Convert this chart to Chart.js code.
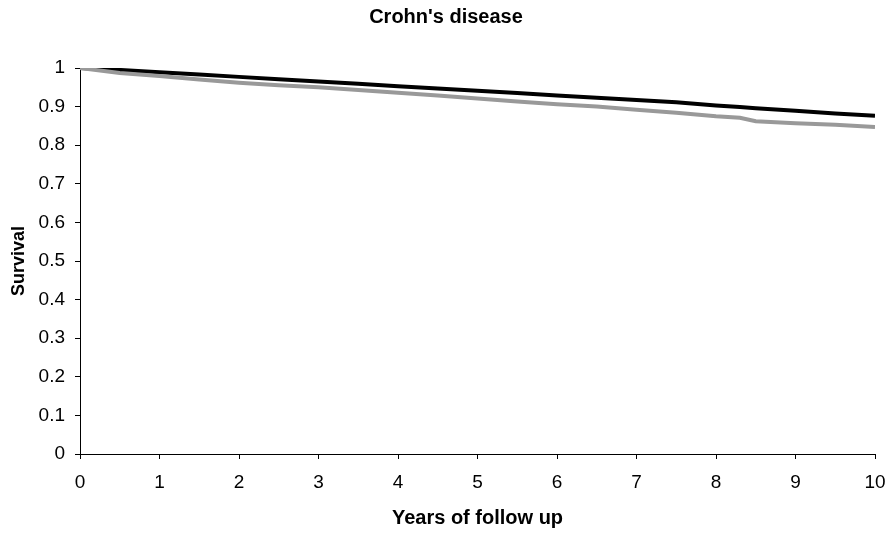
<!DOCTYPE html>
<html>
<head>
<meta charset="utf-8">
<script src="https://cdn.jsdelivr.net/npm/chart.js@4/dist/chart.umd.min.js"></script>
<style>
    html, body { margin: 0; padding: 0; background: #fff; }
    #wrap { width: 892px; height: 533px; }
</style>
</head>
<body>
<div id="wrap"><canvas id="survival-chart"></canvas></div>
<script>
// Годы наблюдения и выживаемость по двум группам
const years = [0, 0.5, 1, 1.5, 2, 2.5, 3, 3.5, 4, 4.5, 5, 5.5, 6, 6.5, 7, 7.5, 8, 8.3, 8.5, 9, 9.5, 10];
const survivalBlack = [1.0, 0.995, 0.989, 0.983, 0.977, 0.971, 0.965, 0.959, 0.953, 0.947, 0.941, 0.935, 0.929, 0.923, 0.917, 0.911, 0.903, 0.899, 0.896, 0.889, 0.882, 0.876];
const survivalGrey = [1.0, 0.987, 0.979, 0.970, 0.962, 0.955, 0.950, 0.943, 0.936, 0.929, 0.921, 0.913, 0.906, 0.900, 0.892, 0.884, 0.875, 0.871, 0.862, 0.857, 0.853, 0.847];
const xTicks = [0, 1, 2, 3, 4, 5, 6, 7, 8, 9, 10];

const FONT = "'Liberation Sans', Arial, sans-serif";

function toPoints(values) {
    return years.map((x, i) => ({ x: x, y: values[i] }));
}

new Chart(document.getElementById('survival-chart'), {
    type: 'line',
    data: {
        datasets: [
            {
                label: 'grey',
                data: toPoints(survivalGrey),
                borderColor: '#999999',
                borderWidth: 4,
                pointRadius: 0,
                tension: 0
            },
            {
                label: 'black',
                data: toPoints(survivalBlack),
                borderColor: '#000000',
                borderWidth: 4,
                pointRadius: 0,
                tension: 0
            }
        ]
    },
    options: {
        responsive: true,
        maintainAspectRatio: false,
        animation: false,
        layout: { padding: 0 },
        plugins: {
            legend: { display: false },
            tooltip: { enabled: false },
            title: {
                display: true,
                text: "Crohn's disease",
                color: '#000',
                font: { family: FONT, size: 20, weight: 'bold' },
                padding: { top: 5, bottom: 39 }
            }
        },
        scales: {
            x: {
                type: 'linear',
                min: 0,
                max: 10,
                afterBuildTicks: (scale) => { scale.ticks = xTicks.map(v => ({ value: v })); },
                afterFit: (scale) => {
                    scale.height = 79;
                    // отступ справа, чтобы ось заканчивалась на 875px
                    scale.paddingRight = 17;
                },
                grid: { drawOnChartArea: false, color: '#000', tickLength: 5, tickColor: '#000' },
                border: { color: '#000', width: 1 },
                ticks: {
                    color: '#000',
                    font: { family: FONT, size: 19 },
                    padding: 12,
                    maxRotation: 0
                },
                title: {
                    display: true,
                    text: 'Years of follow up',
                    color: '#000',
                    font: { family: FONT, size: 20, weight: 'bold' },
                    padding: { top: 3, bottom: 3 }
                }
            },
            y: {
                min: 0,
                max: 1,
                afterFit: (scale) => { scale.width = 80; },
                grid: { drawOnChartArea: false, color: '#000', tickLength: 5, tickColor: '#000' },
                border: { color: '#000', width: 1 },
                ticks: {
                    stepSize: 0.1,
                    color: '#000',
                    font: { family: FONT, size: 19 },
                    padding: 10,
                    callback: (v) => Number(v.toFixed(1)).toString()
                },
                title: {
                    display: true,
                    text: 'Survival',
                    color: '#000',
                    font: { family: FONT, size: 18, weight: 'bold' },
                    padding: { top: 8, bottom: 0 }
                }
            }
        }
    }
});
</script>
</body>
</html>
